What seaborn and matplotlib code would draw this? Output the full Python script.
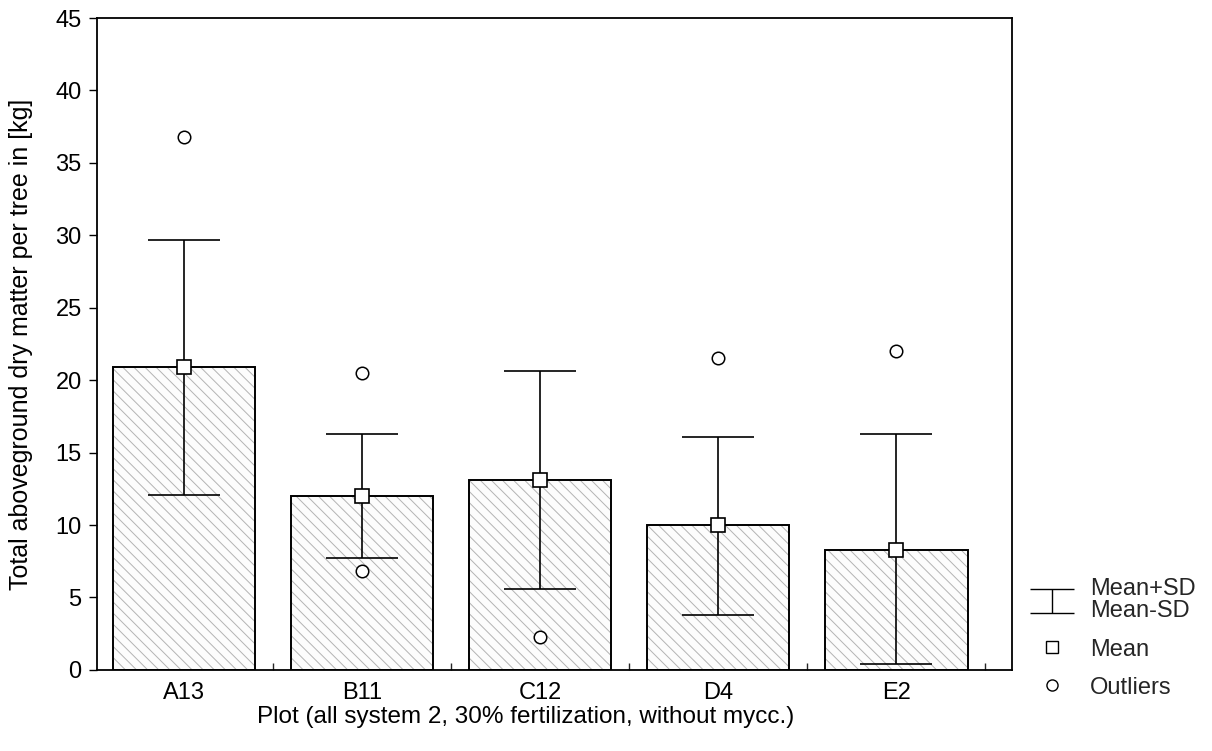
import numpy as np
import pandas as pd
import matplotlib
matplotlib.use("Agg")
import matplotlib.pyplot as plt
import seaborn as sns

# values
plots = ["A13", "B11", "C12", "D4", "E2"]
means = [20.9, 12.0, 13.1, 10.0, 8.3]
upper_sd = [29.7, 16.3, 20.6, 16.1, 16.3]
lower_sd = [12.1, 7.7, 5.6, 3.8, 0.4]
outlier_plot = ["A13", "B11", "B11", "C12", "D4", "E2"]
outlier_val = [36.8, 20.5, 6.8, 2.3, 21.5, 22.0]

sns.set_theme(style="white")
plt.rcParams['font.family'] = ['Liberation Sans', 'DejaVu Sans']
plt.rcParams['hatch.linewidth'] = 0.7

df = pd.DataFrame({"plot": plots, "mean": means})

fig = plt.figure(figsize=(12.12, 7.51), dpi=100)
ax = fig.add_axes([0.080, 0.108, 0.755, 0.868])

# hatched fill first (grey hatch), then black outline on top
sns.barplot(data=df, x="plot", y="mean", order=plots, color="white",
            edgecolor="0.7", linewidth=0, width=0.8, ax=ax)
for bar in ax.patches:
    bar.set_hatch("\\\\\\")
    bar.set_facecolor("#fcfcfc")
sns.barplot(data=df, x="plot", y="mean", order=plots, fill=False,
            edgecolor="black", linewidth=1.4, width=0.8, ax=ax)

xpos = np.arange(len(plots))
m = np.array(means)
yerr = [m - np.array(lower_sd), np.array(upper_sd) - m]
ax.errorbar(xpos, m, yerr=yerr, fmt="none", ecolor="black", elinewidth=1.2,
            capsize=26, capthick=1.2, zorder=3)
ax.plot(xpos, m, linestyle="none", marker="s", markersize=10,
        markerfacecolor="white", markeredgecolor="black", markeredgewidth=1.2, zorder=4)

out = pd.DataFrame({"plot": outlier_plot, "val": outlier_val})
out["x"] = out["plot"].map({p: i for i, p in enumerate(plots)})
ax.plot(out["x"], out["val"], linestyle="none", marker="o", markersize=9,
        markerfacecolor="white", markeredgecolor="black", markeredgewidth=1.1, zorder=4)

ax.set_xlim(-0.49, 4.65)
ax.set_ylim(0, 45)
ax.set_yticks(range(0, 46, 5))
ax.set_xticks(xpos + 0.5, minor=True)
ax.tick_params(axis="y", which="major", direction="out", length=6, width=1,
               labelsize=17, colors="black", left=True, pad=5)
ax.tick_params(axis="x", which="major", length=0, labelsize=17, pad=9, colors="black")
ax.tick_params(axis="x", which="minor", direction="in", length=5, width=1, bottom=True)
for s in ax.spines.values():
    s.set_color("black")
    s.set_linewidth(1.3)

ax.set_ylabel("Total aboveground dry matter per tree in [kg]", fontsize=18, color="black")
ax.yaxis.set_label_coords(-0.07, 0.5)
ax.set_xlabel("Plot (all system 2, 30% fertilization, without mycc.)", fontsize=17.5,
              color="black")
ax.xaxis.set_label_coords(0.469, -0.056)

# proxies for the legend
sd_handle = ax.errorbar([np.nan], [np.nan], yerr=[1], fmt="none", ecolor="black",
                        elinewidth=1, capsize=16, capthick=1)
mean_handle, = ax.plot([], [], linestyle="none", marker="s", markersize=9,
                       markerfacecolor="white", markeredgecolor="black")
out_handle, = ax.plot([], [], linestyle="none", marker="o", markersize=8,
                      markerfacecolor="white", markeredgecolor="black")
leg = fig.legend([sd_handle, mean_handle, out_handle],
                 ["Mean+SD\nMean-SD", "Mean", "Outliers"],
                 loc="upper left", bbox_to_anchor=(0.831, 0.258), frameon=False,
                 fontsize=17, handlelength=2.0, labelspacing=0.68, handletextpad=0.6)
for t in leg.get_texts():
    t.set_linespacing(1.0)

fig.savefig("out.png", dpi=100, facecolor="white")
